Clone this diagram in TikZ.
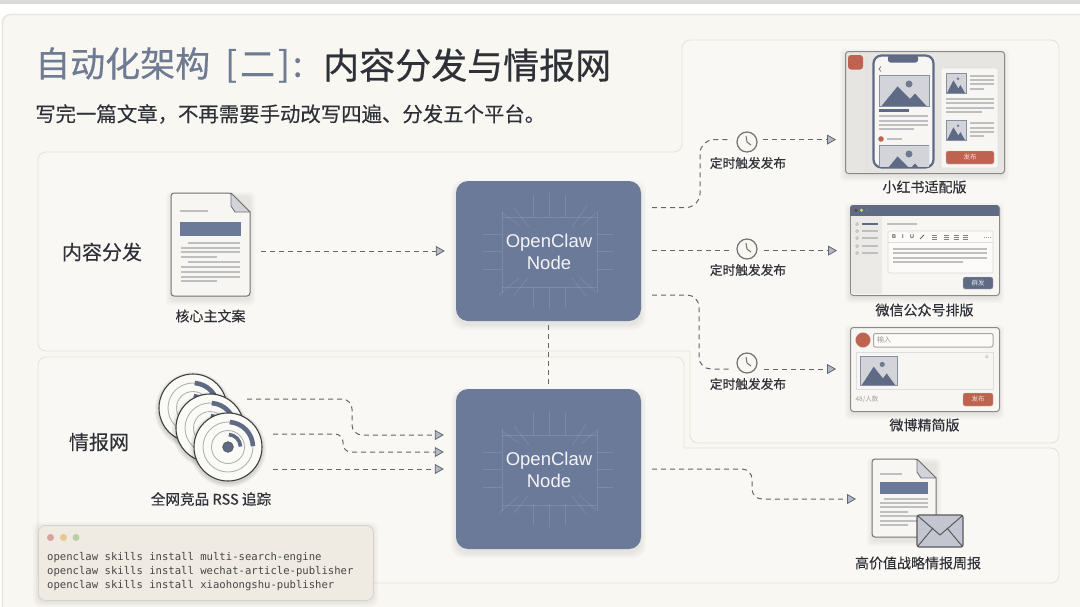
\documentclass[tikz,border=0pt]{standalone}
\usepackage{fontspec}
\setmainfont{Noto Sans CJK SC}
\newfontfamily\latinfont{Liberation Sans}
\newfontfamily\codefont{DejaVu Sans Mono}
\newfontfamily\medfont[FakeBold=0.45]{Noto Sans CJK SC}
\newfontfamily\labfont[FakeBold=0.2]{Noto Sans CJK SC}
\usetikzlibrary{arrows.meta,calc}
\definecolor{bgpage}{HTML}{F9F7F2}
\definecolor{panelfill}{HTML}{FAF8F4}
\definecolor{panelline}{HTML}{E6E3D9}
\definecolor{slate}{HTML}{6B7A99}
\definecolor{slatedark}{HTML}{5F6A85}
\definecolor{titleslate}{HTML}{6F7B92}
\definecolor{ink}{HTML}{2E3138}
\definecolor{dashc}{HTML}{63666D}
\definecolor{tipfill}{HTML}{B4B9C8}
\definecolor{redc}{HTML}{BD6350}
\definecolor{linec}{HTML}{BEBFC1}
\definecolor{winline}{HTML}{8A8A85}
\definecolor{paper}{HTML}{F7F6F2}
\definecolor{imgfill}{HTML}{D2D4DA}
\definecolor{termfill}{HTML}{EFEBE2}
\definecolor{dotr}{HTML}{D9A0A0}
\definecolor{doty}{HTML}{E8C794}
\definecolor{dotg}{HTML}{B9CFA6}
\tikzset{
  panel/.style={draw=panelline,fill=panelfill,line width=0.9pt},
  hub/.style={draw=none,fill=slate,rounded corners=12pt,minimum width=185pt,inner sep=0pt,align=center},
  hubtext/.style={inner sep=0pt,align=center,text=white!92!slate,font=\latinfont\fontsize{18.5}{22}\selectfont},
  dashline/.style={draw=dashc,line width=1pt,dash pattern=on 5pt off 4pt,rounded corners=11pt},
  flowline/.style={dashline,-{Triangle[length=9pt,width=10pt,fill=tipfill,line width=0.8pt]}},
  lab/.style={text=ink,inner sep=0pt,font=\labfont\fontsize{14}{16}\selectfont},
  timelab/.style={text=ink,inner sep=0pt,font=\labfont\fontsize{12.7}{15}\selectfont},
  biglab/.style={text=ink,inner sep=0pt,font=\labfont\fontsize{20}{24}\selectfont},
  clocknode/.style={circle,draw=black!55,fill=bgpage,line width=1.2pt,minimum size=20pt,inner sep=0pt},
  box/.style={inner sep=0pt,anchor=north west},
  txtline/.style={draw=linec,line width=1.7pt},
  tinyline/.style={draw=linec,line width=1.4pt},
  btn/.style={rounded corners=2pt,draw=black!25,line width=0.4pt},
  btntext/.style={inner sep=0pt,text=white!85!red,font=\fontsize{6.5}{8}\selectfont},
}
\newcommand{\softshadow}[6]{%
  \foreach \s in {5,3.5,2,0.5}{
    \fill[black,opacity=0.02,rounded corners=#5pt] ({#1-\s},{#2-\s+#6}) rectangle ({#3+\s},{#4+\s+#6});
  }}
\newcommand{\mtnimg}[4]{% x y w h
  \begin{scope}[shift={(#1,#2)},x=#3pt,y=-#4pt]
    \fill[imgfill] (0,0) rectangle (1,1);
    \fill[slatedark] (0.05,1) -- (0.37,0.37) -- (0.62,0.77) -- (0.72,0.60) -- (0.95,1) -- cycle;
    \draw[slatedark!75,line width=0.6pt] (0,0) rectangle (1,1);
  \end{scope}
  \fill[slatedark!90] ({#1+0.6*#3},{#2+0.29*#4}) circle ({0.07*#3 pt});
}
\newcommand{\rssdisc}[2]{%
  \begin{scope}[shift={(#1,#2)},y=1pt]
    \foreach \s in {4,2.5,1}{\fill[black,opacity=0.05] (0,-2) circle ({34+\s});}
    \fill[paper!60!white] (0,0) circle (34);
    \draw[black!75,line width=1.1pt] (0,0) circle (34);
    \draw[black!30,line width=0.9pt] (0,0) circle (16.5);
    \draw[black!30,line width=0.9pt] (0,0) circle (25);
    \draw[slatedark,line width=4.6pt] (86:25) arc (86:2:25);
    \draw[slatedark,line width=3.6pt] (86:12.5) arc (86:2:12.5);
    \fill[slatedark] (0,0) circle (5.4);
    \draw[black!70,line width=0.5pt] (0,0) circle (5.4);
  \end{scope}}
\newcommand{\hubdeco}[2]{%
  \begin{scope}[shift={(#1,#2)},draw=white,draw opacity=0.12,line width=0.7pt]
    \draw (-16,-56) -- (-16,-34) (0,-58) -- (0,-34) (16,-56) -- (16,-34);
    \draw (-16,36) -- (-16,56) (0,36) -- (0,58) (16,36) -- (16,56);
    \draw (-66,-17) -- (-47,-17) (-66,0) -- (-47,0) (-66,18) -- (-47,18);
    \draw (48,-17) -- (64,-17) (48,0) -- (64,0) (48,18) -- (64,18);
    \draw (-47,-34) -- (48,-34) (-47,36) -- (48,36);
    \draw (-47,-40) -- (-47,42) (48,-40) -- (48,42);
    \draw (-47,-38) -- (-30,-26) (-35,-43) -- (-20,-24) (38,-46) -- (23,-24) (47,-38) -- (33,-26);
    \draw (-50,44) -- (-30,27) (-35,44) -- (-21,27) (38,46) -- (23,27) (47,41) -- (30,26);
  \end{scope}}
\newcommand{\docicon}[4]{% x1 y1 x2 y2
  \softshadow{#1}{#2}{#3}{#4}{4}{4}
  \draw[fill=paper,draw=black!55,line width=1pt,rounded corners=3pt] (#1,#2) -- ({#3-19},#2) [sharp corners] -- (#3,{#2+19}) [rounded corners=3pt] -- (#3,#4) -- (#1,#4) -- cycle;
  \draw[fill=imgfill,draw=black!55,line width=0.9pt,line join=round] ({#3-19},#2) -- ({#3-19},{#2+13}) -- ({#3-15},{#2+19}) -- (#3,{#2+19}) -- cycle;
}
\begin{document}
\begin{tikzpicture}[x=1pt,y=-1pt]
\useasboundingbox (0,0) rectangle (1080,606);
% page
\fill[white!97!bgpage] (0,0) rectangle (1080,606);
\fill[black!14] (0,0) rectangle (1080,3.5);
\draw[fill=bgpage,draw=panelline,line width=1.3pt,rounded corners=8pt] (2.5,620) -- (2.5,14.5) -- (1095,14.5) -- (1095,620) -- cycle;
% panels
\path[panel] (38,250) [rounded corners=8pt] -- (38,152) -- (682,152) -- (682,40) -- (1059,40) -- (1059,443) -- (690,443) [sharp corners] -- (690,351) [rounded corners=8pt] -- (38,351) -- cycle;
\path[panel] (38,450) [rounded corners=8pt] -- (38,357) -- (684,357) [sharp corners] -- (684,448) [rounded corners=8pt] -- (1059,448) -- (1059,583) -- (38,583) -- cycle;
% title
\node[anchor=west,inner sep=0pt,text=titleslate,font=\medfont\fontsize{35}{40}\selectfont] (titleA) at (35,65) {自动化架构\hspace{15pt}[\hspace{3pt}二\hspace{3pt}]\hspace{3pt}:};
\node[anchor=west,inner sep=0pt,text=ink,font=\medfont\fontsize{36}{40}\selectfont] (titleB) at (323,65) {内容分发与情报网};
\node[anchor=west,inner sep=0pt,text=ink,font=\labfont\fontsize{20.4}{24}\selectfont] (subtitle) at (35,114) {写完一篇文章，不再需要手动改写四遍、分发五个平台。};
\node[biglab] (labA) at (102,252) {内容分发};
\node[biglab] (labB) at (99,442) {情报网};
% hubs
\softshadow{456}{181}{641}{321}{12}{4}
\softshadow{456}{389}{641}{549}{12}{4}
\node[hub,minimum height=140pt] (hubA) at (548.5,251) {};
\node[hub,minimum height=160pt] (hubB) at (548.5,469) {};
\hubdeco{549}{251}
\hubdeco{549}{469}
\node[hubtext] (hubAt) at (549,252) {OpenClaw\\Node};
\node[hubtext] (hubBt) at (549,470) {OpenClaw\\Node};
% source document
\docicon{171}{193}{250}{296}
\node[box,minimum width=79pt,minimum height=103pt] (doc) at (171,193) {};
\draw[txtline] (180,211) -- (208,211);
\fill[slate] (180,222) rectangle (241,236);
\foreach \a/\b/\yy in {188/240/243,181/240/248,181/240/252,181/217/257,188/240/262,181/240/267,181/240/272,181/240/277,181/217/281}{\draw[txtline] (\a,\yy) -- (\b,\yy);}
\node[lab] (docl) at (210.5,316) {核心主文案};
% RSS discs
\rssdisc{193}{408}
\rssdisc{210}{428}
\rssdisc{228}{447}
\coordinate (rssA) at (247,399);
\coordinate (rssB) at (273,434);
\coordinate (rssC) at (273,469);
\node[lab,font=\labfont\fontsize{14.6}{16}\selectfont] (rssl) at (211,499) {全网竞品 RSS 追踪};
% Xiaohongshu window
\softshadow{845}{51}{1004}{173}{4}{3}
\node[box,draw=winline,fill=black!7!paper,line width=1pt,rounded corners=3pt,minimum width=159pt,minimum height=122pt] (xhs) at (845,51) {};
\draw[black!12,line width=0.8pt] (866,52) -- (866,172);
\fill[redc,rounded corners=3pt] (848,55) rectangle (863,69.5);
\draw[fill=paper,draw=slatedark,line width=2.2pt,rounded corners=8pt] (873.5,55.5) rectangle (933.5,167.5);
\fill[slatedark,rounded corners=2.5pt] (888,55) rectangle (918,62.5);
\draw[black!55,line width=0.7pt] (881,66.5) -- (879,69) -- (881,71.5);
\mtnimg{879}{75}{50}{31}
\draw[slatedark,line width=2.4pt] (879,110.5) -- (909,110.5);
\foreach \a/\b/\yy in {879/928/116,879/928/121,879/928/125,879/914/129}{\draw[tinyline] (\a,\yy) -- (\b,\yy);}
\fill[redc] (881,139) circle (2.8);
\draw[tinyline] (887,139) -- (902,139);
\begin{scope}
  \clip (879,145) rectangle (929,166);
  \mtnimg{879}{145}{50}{31}
\end{scope}
\draw[fill=paper,draw=black!12,line width=0.8pt,rounded corners=2pt] (941,68) rectangle (998,168);
\mtnimg{946}{73}{20}{20}
\foreach \a/\b/\yy in {970/994/76,970/994/80,970/994/84,970/984/89,946/994/99,946/994/103,946/994/108,946/982/112,970/994/123,970/994/128,970/994/132,970/984/136}{\draw[tinyline] (\a,\yy) -- (\b,\yy);}
\mtnimg{946}{120}{20}{20}
\draw[btn,fill=redc] (946,151) rectangle (994,164);
\node[btntext] (xhsb) at (970,157.5) {发布};
\node[lab] (xhsl) at (924.5,187) {小红书适配版};
% WeChat window
\softshadow{850}{205}{999}{295}{4}{3}
\node[box,draw=winline,fill=paper,line width=1pt,rounded corners=3pt,minimum width=149pt,minimum height=90pt] (wx) at (850,205) {};
\fill[black!5!paper] (851,215) rectangle (882,294);
\fill[slatedark,rounded corners=3pt] (850,205) rectangle (999,215.5);
\fill[slatedark] (850,210) rectangle (999,215.5);
\fill[redc!60!black] (856,210.3) circle (1.6);
\fill[yellow!70!green!70!white] (861.5,210.3) circle (1.6);
\fill[green!30!slatedark] (867,210.3) circle (1.2);
\foreach \yy in {224,231,238,246,253}{\draw[black!35,line width=0.5pt] (857,\yy) circle (1.4);}
\draw[slatedark,line width=1.8pt] (862,224) -- (878,224);
\foreach \yy in {231,238,246,253}{\draw[tinyline] (862,\yy) -- (878,\yy);}
\draw[tinyline] (887,224) -- (917,224);
\draw[fill=white!60!paper,draw=black!14,line width=0.7pt,rounded corners=2pt] (888,231) rectangle (993,273);
\draw[black!14,line width=0.7pt] (888,242) -- (993,242);
\foreach \xx/\ss in {894/B,903/I,912/U}{\node[inner sep=0pt,text=black!65,font=\latinfont\bfseries\fontsize{5.5}{6}\selectfont] at (\xx,237) {\ss};}
\draw[black!60,line width=1pt] (920,239) -- (924,235);
\foreach \xx in {934,946,956,965}{\draw[black!50,line width=0.5pt] ({\xx-2.5},235) -- ({\xx+2.5},235) ({\xx-2.5},237) -- ({\xx+2.5},237) ({\xx-2.5},239) -- ({\xx+2.5},239);}
\draw[black!40,line width=0.7pt,dash pattern=on 1pt off 1pt] (984,237) -- (991,237);
\foreach \a/\b/\yy in {893/987/249,893/987/253,893/987/258,893/963/262}{\draw[txtline,line width=1.5pt] (\a,\yy) -- (\b,\yy);}
\draw[btn,fill=slatedark] (963,277) rectangle (993,289);
\node[btntext,text=white!75!slate] (wxb) at (978,283) {群发};
\node[lab] (wxl) at (924.5,310) {微信公众号排版};
% Weibo window
\softshadow{850}{327}{999}{411}{4}{3}
\node[box,draw=winline,fill=paper,line width=1pt,rounded corners=3pt,minimum width=149pt,minimum height=84pt] (wb) at (850,327) {};
\draw[fill=redc,draw=black!20,line width=0.3pt] (863,340) circle (7.5);
\draw[fill=white!60!paper,draw=black!35,line width=1pt,rounded corners=2pt] (873.5,333.5) rectangle (993,347);
\node[inner sep=0pt,text=black!40,font=\fontsize{7}{8}\selectfont] (wbin) at (884,340) {输入};
\draw[fill=paper,draw=black!13,line width=0.7pt] (856,352) rectangle (993,389);
\mtnimg{860}{356}{37}{29}
\node[inner sep=0pt,text=black!35,font=\latinfont\fontsize{7}{8}\selectfont] (wbx) at (987,358) {×};
\node[inner sep=0pt,text=black!38,font=\fontsize{6.5}{8}\selectfont] (wbc) at (867,399) {48/人数};
\draw[btn,fill=redc] (963,393) rectangle (993,406);
\node[btntext] (wbb) at (978,399.5) {发布};
\node[lab] (wbl) at (924.5,425) {微博精简版};
% report
\docicon{872}{459}{936}{537}
\node[box,minimum width=64pt,minimum height=78pt] (rep) at (872,459) {};
\draw[txtline] (880,474) -- (902,474);
\fill[slate] (880,482) rectangle (928,494);
\foreach \a/\b/\yy in {884/928/499,880/928/503,880/928/507,880/908/512,880/917/516,880/917/521,880/908/525}{\draw[txtline,line width=1.4pt] (\a,\yy) -- (\b,\yy);}
\draw[fill=imgfill!85!slate,draw=black!65,line width=1.1pt,rounded corners=2pt] (917,515) rectangle (963,547);
\draw[black!65,line width=1pt,line join=round] (918,516) -- (940,535) -- (962,516);
\draw[black!65,line width=1pt] (918,546) -- (933,528) (962,546) -- (947,528);
\node[lab] (repl) at (918,563) {高价值战略情报周报};
% clocks
\node[clocknode] (ckA) at (747,142) {};
\node[clocknode] (ckB) at (747,249) {};
\node[clocknode] (ckC) at (747,363) {};
\foreach \c in {ckA,ckB,ckC}{\draw[black!55,line width=1pt,line join=round] ($(\c)+(-1,-6)$) -- (\c.center) -- ($(\c)+(4,3)$);}
\node[timelab] (tA) at (748,163) {定时触发发布};
\node[timelab] (tB) at (748,270) {定时触发发布};
\node[timelab] (tC) at (748,384) {定时触发发布};
% connector anchors
\coordinate (pA) at (652,207.5);
\coordinate (pB) at (652,250.6);
\coordinate (pC) at (652,295);
\coordinate (pD) at (652,469);
\coordinate (inA) at (ckA.west |- 0,139.6);
\coordinate (outA) at (ckA.east |- 0,139.6);
% connectors
\draw[flowline,shorten <=11pt,shorten >=11pt] (doc.east |- hubA) -- (hubA.west);
\draw[dashline,rounded corners=14pt] (pA) -- (700,207.5) -- (700,139.6) -- ([xshift=-5pt]inA);
\draw[flowline,shorten <=5pt,shorten >=9pt] (outA) -- (xhs.west |- outA);
\draw[dashline] (pB) -- ([xshift=-6pt]ckB.west |- pB);
\draw[flowline,shorten <=6pt,shorten >=13pt] (ckB.east |- pB) -- (wx.west |- pB);
\draw[dashline,rounded corners=12pt] (pC) -- (699,295) -- (699,369) -- (732,369);
\draw[flowline,shorten >=14pt] (764,369) -- (wb.west |- 0,369);
\draw[flowline,rounded corners=10pt,shorten >=12pt] (rssA) -- (352,399) -- (352,435) -- (hubA.west |- 0,435);
\draw[flowline,rounded corners=8pt,shorten >=12pt] (rssB) -- (343,434) -- (343,452) -- (hubA.west |- 0,452);
\draw[flowline,shorten >=12pt] (rssC) -- (hubB.west |- rssC);
\draw[dashline,shorten <=4pt,shorten >=2pt] (hubA) ++(0,70) -- (hubB.north);
\draw[flowline,rounded corners=10pt] (pD) -- (752,469) -- (752,499) -- (856,499);
% terminal
\softshadow{38}{525}{373}{600}{7}{2}
\node[box,draw=black!10!termfill,fill=termfill,line width=0.8pt,rounded corners=7pt,minimum width=335pt,minimum height=75pt] (term) at (38,525) {};
\fill[dotr] (50.5,537.5) circle (3.5);
\fill[doty] (63.5,537.5) circle (3.5);
\fill[dotg] (76,537.5) circle (3.5);
\node[anchor=north west,inner sep=0pt,align=left,text=black!72,font=\codefont\fontsize{10.6}{14}\selectfont] (termt) at (47,552) {openclaw skills install multi-search-engine\\openclaw skills install wechat-article-publisher\\openclaw skills install xiaohongshu-publisher};
\end{tikzpicture}
\end{document}
